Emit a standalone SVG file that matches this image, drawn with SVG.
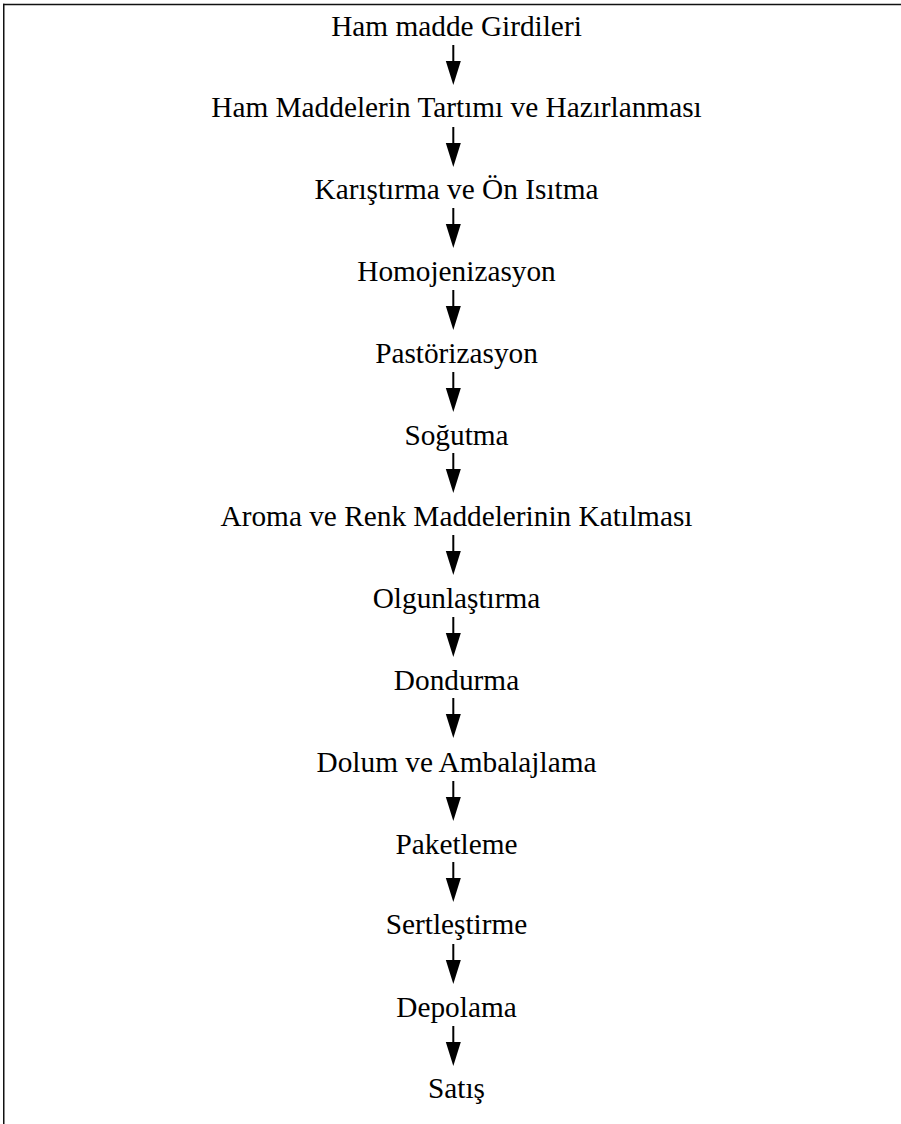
<svg xmlns="http://www.w3.org/2000/svg" width="901" height="1124" viewBox="0 0 901 1124">
<style>
text.lbl{font-family:'Liberation Serif','Times New Roman',Times,serif;font-size:29.3px;fill:#000;text-anchor:middle}
.frame{stroke:#111;stroke-width:1.5;fill:none}
.shaft{stroke:#000;stroke-width:2;fill:none}
</style>
<defs>
<g id="arrowShape"><line class="shaft" x1="0" y1="0" x2="0" y2="18"/><path d="M-7.5,16 L7.5,16 L0,40 Z" fill="#000"/></g>
</defs>
<rect width="901" height="1124" fill="#fff"/>
<g id="frame">
<line class="frame" x1="3" y1="4.5" x2="901" y2="4.5"/>
<line class="frame" x1="3.75" y1="3.75" x2="3.75" y2="1124"/>
</g>
<g id="connectors">
<use href="#arrowShape" x="453.3" y="45"/>
<use href="#arrowShape" x="453.3" y="127"/>
<use href="#arrowShape" x="453.3" y="208"/>
<use href="#arrowShape" x="453.3" y="290"/>
<use href="#arrowShape" x="453.3" y="372"/>
<use href="#arrowShape" x="453.3" y="453"/>
<use href="#arrowShape" x="453.3" y="535"/>
<use href="#arrowShape" x="453.3" y="617"/>
<use href="#arrowShape" x="453.3" y="698"/>
<use href="#arrowShape" x="453.3" y="781"/>
<use href="#arrowShape" x="453.3" y="862"/>
<use href="#arrowShape" x="453.3" y="944"/>
<use href="#arrowShape" x="453.3" y="1026"/>
</g>
<g id="n1"><text class="lbl" x="456.5" y="36">Ham madde Girdileri</text></g>
<g id="n2"><text class="lbl" x="456.5" y="117">Ham Maddelerin Tartımı ve Hazırlanması</text></g>
<g id="n3"><text class="lbl" x="456.5" y="199">Karıştırma ve Ön Isıtma</text></g>
<g id="n4"><text class="lbl" x="456.5" y="281">Homojenizasyon</text></g>
<g id="n5"><text class="lbl" x="456.5" y="363">Pastörizasyon</text></g>
<g id="n6"><text class="lbl" x="456.5" y="445">Soğutma</text></g>
<g id="n7"><text class="lbl" x="456.5" y="526">Aroma ve Renk Maddelerinin Katılması</text></g>
<g id="n8"><text class="lbl" x="456.5" y="608">Olgunlaştırma</text></g>
<g id="n9"><text class="lbl" x="456.5" y="690">Dondurma</text></g>
<g id="n10"><text class="lbl" x="456.5" y="772">Dolum ve Ambalajlama</text></g>
<g id="n11"><text class="lbl" x="456.5" y="854">Paketleme</text></g>
<g id="n12"><text class="lbl" x="456.5" y="934">Sertleştirme</text></g>
<g id="n13"><text class="lbl" x="456.5" y="1017">Depolama</text></g>
<g id="n14"><text class="lbl" x="456.5" y="1098">Satış</text></g>
</svg>
